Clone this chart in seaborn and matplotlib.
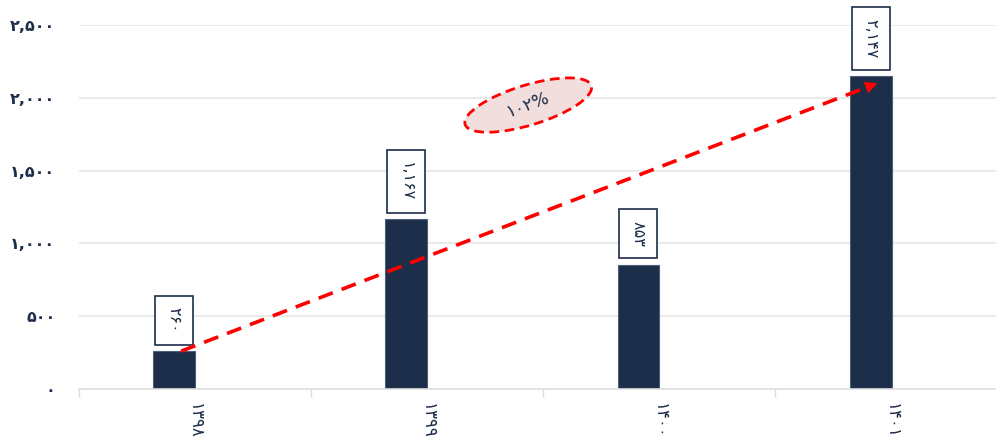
import numpy as np
import pandas as pd
import seaborn as sns
import matplotlib.pyplot as plt
import matplotlib.transforms as mtransforms
from matplotlib.patches import Ellipse
from matplotlib.ticker import FuncFormatter

sns.set_style('whitegrid')
plt.rcParams['font.family'] = ['DejaVu Sans']

# داده ها
years = ['1398', '1399', '1400', '1401']
values = [260, 1167, 853, 2147]
growth_label = '102%'
y_ticks = [0, 500, 1000, 1500, 2000, 2500]

navy = '#1c2e4a'
fa_digits = str.maketrans('0123456789', '۰۱۲۳۴۵۶۷۸۹')


def to_fa(s):
    return str(s).translate(fa_digits)


df = pd.DataFrame({
    'year': years + years,
    'value': values + [0] * len(values),
    'series': ['main'] * len(values) + ['blank'] * len(values),
})

fig = plt.figure(figsize=(9.96, 4.43), dpi=100)
ax = fig.add_axes([79 / 996, 1 - 389 / 443, (996 - 79) / 996, 364 / 443])

sns.barplot(data=df, x='year', y='value', hue='series', order=years,
            hue_order=['main', 'blank'], palette=[navy, 'white'],
            width=0.36, gap=0, errorbar=None, legend=False,
            saturation=1, linewidth=0, ax=ax)

bars = [p for p in ax.patches if p.get_height() > 0]
for p in bars:
    p.set_edgecolor('#4f5f78')
    p.set_linewidth(0.8)
    cx = p.get_x() + p.get_width() / 2
    ax.annotate(to_fa(f'{int(p.get_height()):,}'), (cx, p.get_height()),
                xytext=(0, 13), textcoords='offset points',
                rotation=270, ha='center', va='bottom', fontsize=11.5,
                color=navy, annotation_clip=False,
                bbox=dict(boxstyle='square,pad=0.72', fc='white', ec=navy, lw=1.2))

# فلش رشد
x0 = bars[0].get_x() + bars[0].get_width() / 2 + 0.03
x1 = bars[-1].get_x() + bars[-1].get_width() / 2 + 0.04
y0, y1 = values[0], values[-1] - 40
ax.plot([x0, x0 + (x1 - x0) * 0.985], [y0, y0 + (y1 - y0) * 0.985],
        color='red', lw=2.6, ls=(0, (4.2, 2.6)), zorder=5)
ax.annotate('', xy=(x1, y1), xytext=(x0 + (x1 - x0) * 0.96, y0 + (y1 - y0) * 0.96),
            arrowprops=dict(arrowstyle='-|>', color='red', lw=0, mutation_scale=22),
            zorder=6)

# بیضی درصد رشد
ex, ey = 1.435, 1950
trans = fig.dpi_scale_trans + mtransforms.ScaledTranslation(ex, ey, ax.transData)
ax.add_patch(Ellipse((0, 0), 1.32, 0.40, angle=17, transform=trans,
                     fc='#f3dede', ec='red', lw=2, ls=(0, (3.5, 2)), zorder=4))
ax.text(ex, ey, to_fa(growth_label), rotation=20, ha='center', va='center',
        fontsize=12.5, color=navy, zorder=7, rotation_mode='anchor')

ax.set_xlim(-0.5, 3.45)
ax.set_ylim(0, 2500)
ax.set_yticks(y_ticks)
ax.yaxis.set_major_formatter(FuncFormatter(lambda v, _: to_fa(f'{int(v):,}')))
ax.set_xticks(range(len(years)))
ax.set_xticklabels([to_fa(y) for y in years], rotation=270)
ax.set_xticks([-0.5, 0.5, 1.5, 2.5], minor=True)

ax.tick_params(axis='y', length=0, pad=17, labelsize=11.5, labelcolor=navy)
ax.tick_params(axis='x', which='major', length=0, pad=10, labelsize=12, labelcolor=navy)
ax.tick_params(axis='x', which='minor', length=6, width=1, color='#dcdcdc', bottom=True)
for lab in ax.get_yticklabels():
    lab.set_fontweight('bold')

ax.yaxis.grid(True, color='#e6e6e6', lw=1.2)
ax.xaxis.grid(False)
for s in ['left', 'right', 'top']:
    ax.spines[s].set_visible(False)
ax.spines['bottom'].set_color('#e0e0e0')
ax.spines['bottom'].set_linewidth(1.2)
ax.set_xlabel('')
ax.set_ylabel('')

fig.savefig('out.png', dpi=100)
